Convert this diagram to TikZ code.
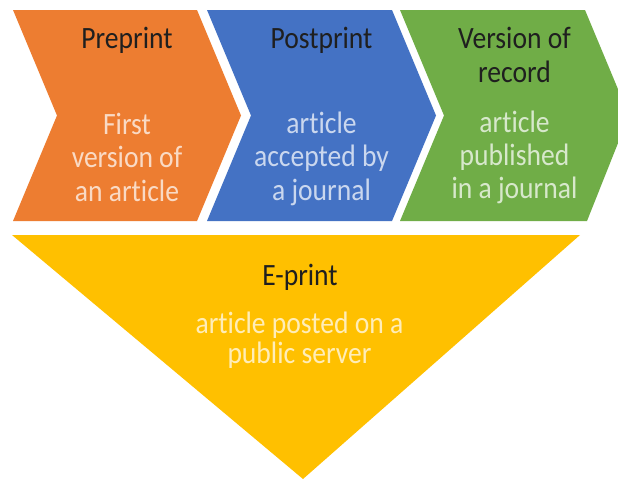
\documentclass[tikz,border=0pt]{standalone}
\usepackage{fontspec}
\setmainfont{Carlito}[FakeStretch=0.89, Ligatures=NoCommon]
\definecolor{cOrange}{HTML}{ED7D31}
\definecolor{cBlue}{HTML}{4472C4}
\definecolor{cGreen}{HTML}{70AD47}
\definecolor{cYellow}{HTML}{FFC000}
\begin{document}
\begin{tikzpicture}[x=1pt,y=-1pt,
  titletext/.style={inner sep=0pt, anchor=base, align=center, text=black!88,
    font=\fontsize{31}{34}\selectfont},
  bodytext/.style={inner sep=0pt, anchor=base, align=center, text=white, text opacity=0.72,
    font=\fontsize{31}{33.5}\selectfont}]
\useasboundingbox (0,0) rectangle (618,479);
\fill[white] (0,0) rectangle (618,479);
\begin{scope}
\clip (0,0) rectangle (618,479);
% chevrons
\fill[cOrange] (13,10) -- (197,10) -- (241,115.5) -- (197,221) -- (13,221) -- (57,115.5) -- cycle;
\fill[cBlue] (207,10) -- (392,10) -- (436,115.5) -- (392,221) -- (207,221) -- (251,115.5) -- cycle;
\fill[cGreen] (400,10) -- (585,10) -- (629,115.5) -- (587,221) -- (400,221) -- (444,115.5) -- cycle;
% triangle
\fill[cYellow] (12,235) -- (580,235) -- (303,479) -- cycle;
\end{scope}
% texts (anchor = baseline of the last line)
\node[titletext] (pretitle) at (127,48) {Preprint};
\node[bodytext] (prebody) at (127,201) {First\\version of\\an article};
\node[titletext] (posttitle) at (321.5,48) {Postprint};
\node[bodytext] (postbody) at (321.5,200) {article\\accepted by\\a journal};
\node[titletext] (vortitle) at (514.5,82) {Version of\\record};
\node[bodytext, font=\fontsize{31}{33}\selectfont] (vorbody) at (514.5,198) {article\\published\\in a journal};
\node[titletext] (etitle) at (300,285) {E-print};
\node[bodytext, font=\fontsize{31}{30}\selectfont] (ebody) at (299.5,363) {article posted on a\\public server};
\end{tikzpicture}
\end{document}
